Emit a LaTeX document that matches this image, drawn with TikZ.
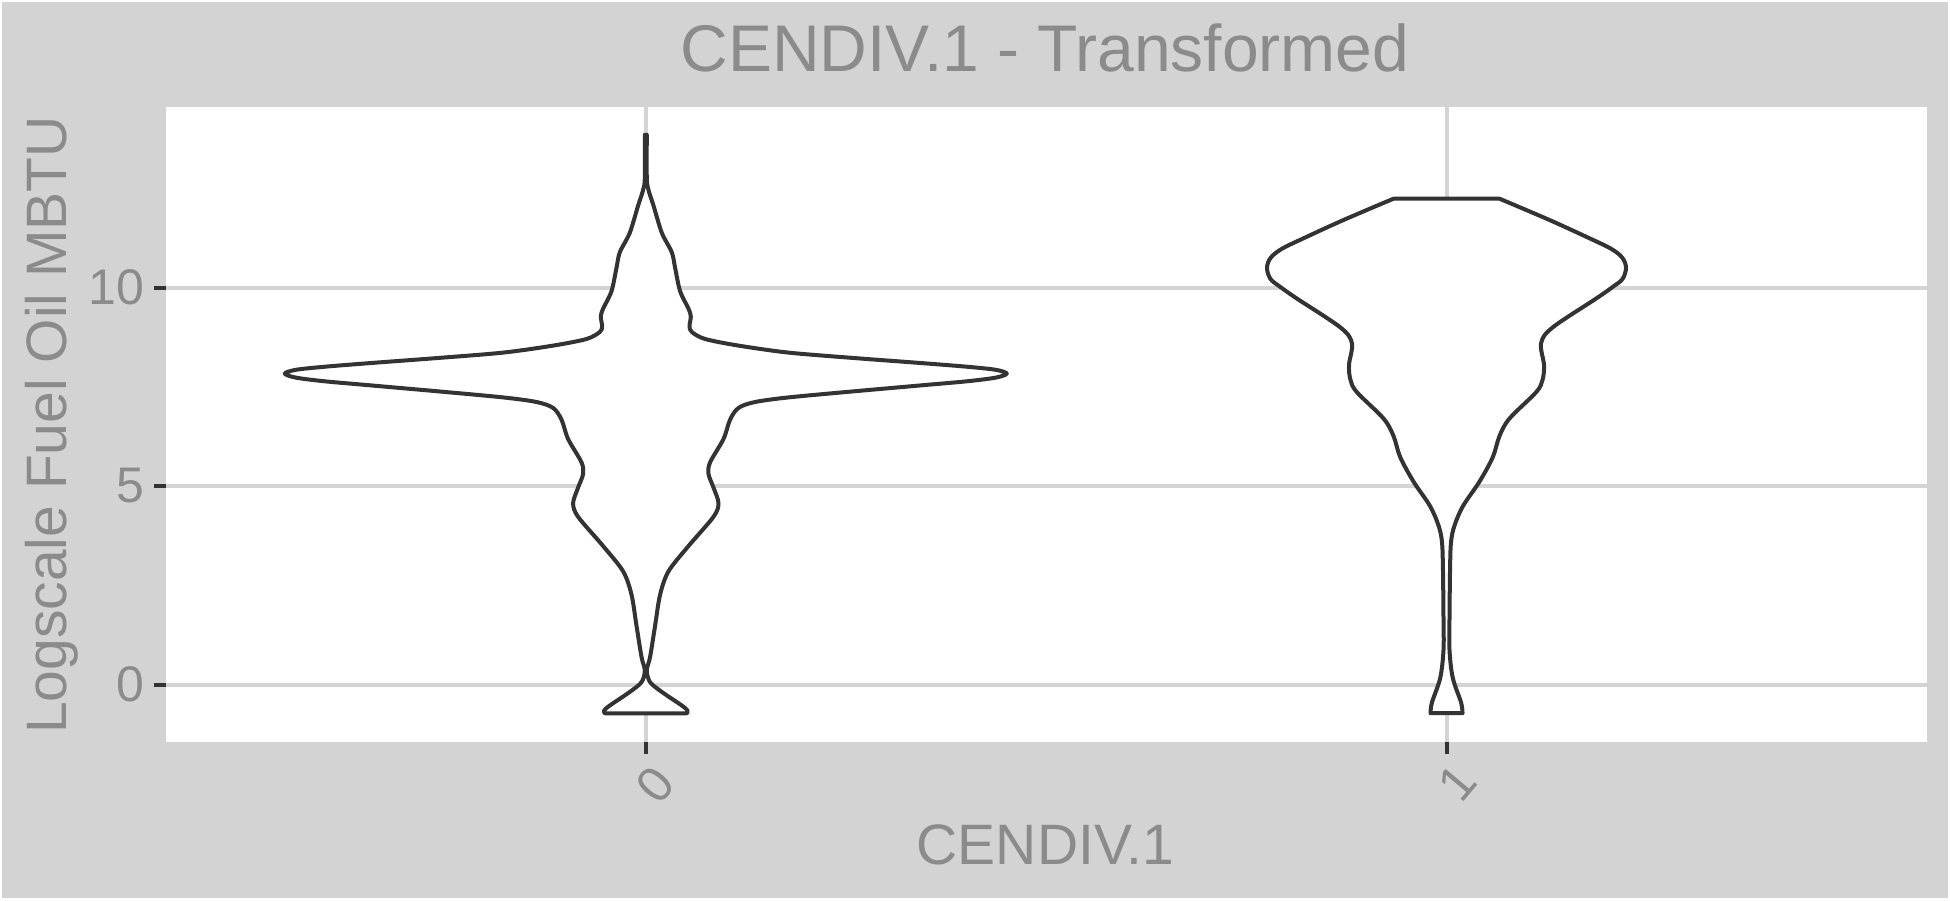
\documentclass[tikz,border=0pt]{standalone}
\usepackage{fontspec}
\setmainfont{Liberation Sans}
\definecolor{bggray}{RGB}{211,211,211}
\definecolor{gridgray}{RGB}{212,212,212}
\definecolor{txtgray}{RGB}{139,139,139}
\definecolor{darkline}{RGB}{51,51,51}
\tikzset{
  gridline/.style={draw=gridgray, line width=2pt},
  tickmark/.style={draw=darkline, line width=2pt},
  violin/.style={draw=darkline, fill=white, line width=2pt, line join=round},
  ticklabel/.style={text=txtgray, font=\fontsize{25}{25}\selectfont, inner sep=0pt},
  axistitle/.style={text=txtgray, font=\fontsize{28.5}{28.5}\selectfont, inner sep=0pt},
  plottitle/.style={text=txtgray, font=\fontsize{33}{33}\selectfont, inner sep=0pt},
}
\begin{document}
\begin{tikzpicture}[x=0.5pt,y=-0.5pt]
\useasboundingbox (0,0) rectangle (1950,900);
\fill[white] (0,0) rectangle (1950,900);
\fill[bggray] (2,2) rectangle (1948,898);
\fill[white] (166,107) rectangle (1927,742);
% grid
\foreach \yy in {287.5,486,684.5} \draw[gridline] (166,\yy) -- (1927,\yy);
\foreach \xx in {645.8,1446.5} \draw[gridline] (\xx,107) -- (\xx,742);
% ticks
\foreach \yy in {287.5,486,684.5} \draw[tickmark] (154,\yy) -- (166,\yy);
\foreach \xx in {645.8,1446.5} \draw[tickmark] (\xx,742) -- (\xx,753.5);
% violin 0
\def\ca{645.8}
\draw[violin] plot[smooth, tension=0.5] coordinates {
({\ca-1},134.8) ({\ca-1},178) ({\ca-2.7},190) ({\ca-7.7},205.6) ({\ca-16},232.8)
({\ca-26},252.3) ({\ca-29.3},267.8) ({\ca-34.3},291.2) ({\ca-42.7},308.7) ({\ca-45},316.5)
({\ca-43.7},326.2) ({\ca-46},332) ({\ca-59.3},339) ({\ca-92.7},345.6) ({\ca-142.7},352.6)
({\ca-209.3},358.1) ({\ca-276},363.1) ({\ca-322},366.8) ({\ca-350},369.8) ({\ca-361},373.6)
({\ca-350},377.6) ({\ca-322},381.2) ({\ca-276},385.3) ({\ca-209.3},391.2) ({\ca-142.7},397.4)
({\ca-109.3},402) ({\ca-92.7},407.9)
({\ca-84.3},419.6) ({\ca-77.7},439) ({\ca-64.3},462.3) ({\ca-62.7},474) ({\ca-67.7},487.6)
({\ca-72.7},503.2) ({\ca-67.7},516.8) ({\ca-42.7},546) ({\ca-22.7},571.3) ({\ca-14.3},594.6)
({\ca-9.3},625.7) ({\ca-4.3},656.9) ({\ca-1},670.5) ({\ca-4.3},682.2) ({\ca-16},691.9)
({\ca-36},705.5) ({\ca-41.7},710.5) ({\ca-41},713.3)}
-- plot[smooth, tension=0.5] coordinates {
({\ca+41},713.3) ({\ca+41.7},710.5) ({\ca+36},705.5) ({\ca+16},691.9) ({\ca+4.3},682.2)
({\ca+1},670.5) ({\ca+4.3},656.9) ({\ca+9.3},625.7) ({\ca+14.3},594.6) ({\ca+22.7},571.3)
({\ca+42.7},546) ({\ca+67.7},516.8) ({\ca+72.7},503.2) ({\ca+67.7},487.6) ({\ca+62.7},474)
({\ca+64.3},462.3) ({\ca+77.7},439) ({\ca+84.3},419.6) ({\ca+92.7},407.9) ({\ca+109.3},402)
({\ca+142.7},397.4) ({\ca+209.3},391.2) ({\ca+276},385.3) ({\ca+322},381.2) ({\ca+350},377.6)
({\ca+361},373.6) ({\ca+350},369.8) ({\ca+322},366.8)
({\ca+276},363.1) ({\ca+209.3},358.1) ({\ca+142.7},352.6) ({\ca+92.7},345.6)
({\ca+59.3},339) ({\ca+46},332) ({\ca+43.7},326.2) ({\ca+45},316.5) ({\ca+42.7},308.7)
({\ca+34.3},291.2) ({\ca+29.3},267.8) ({\ca+26},252.3) ({\ca+16},232.8) ({\ca+7.7},205.6)
({\ca+2.7},190) ({\ca+1},178) ({\ca+1},134.8)} -- cycle;
% violin 1
\def\cb{1446.5}
\draw[violin] plot[smooth, tension=0.55] coordinates {
({\cb-53},198.7) ({\cb-103},220) ({\cb-143},238.3) ({\cb-165},249) ({\cb-176},258)
({\cb-179.5},268) ({\cb-176},279) ({\cb-166.5},286.7) ({\cb-150},298.3)
({\cb-106.3},327.3) ({\cb-94.6},343.1) ({\cb-97.5},365)
({\cb-96},380) ({\cb-89.6},392.2) ({\cb-63},418.5) ({\cb-53},436) ({\cb-46.3},457.1)
({\cb-33},481.6) ({\cb-16.5},506) ({\cb-8},525.5) ({\cb-4.6},541.3) ({\cb-3.6},566)
({\cb-3},618.4) ({\cb-3},650) ({\cb-6.3},678) ({\cb-14.6},702.6) ({\cb-16},713.2)}
-- plot[smooth, tension=0.55] coordinates {
({\cb+16},713.2) ({\cb+14.6},702.6) ({\cb+6.3},678) ({\cb+3},650) ({\cb+3},618.4)
({\cb+3.6},566) ({\cb+4.6},541.3) ({\cb+8},525.5) ({\cb+16.5},506) ({\cb+33},481.6)
({\cb+46.3},457.1) ({\cb+53},436) ({\cb+63},418.5) ({\cb+89.6},392.2) ({\cb+96},380)
({\cb+97.5},365) ({\cb+94.6},343.1) ({\cb+106.3},327.3)
({\cb+150},298.3) ({\cb+166.5},286.7) ({\cb+176},279) ({\cb+179.5},268)
({\cb+176},258) ({\cb+165},249) ({\cb+143},238.3) ({\cb+103},220) ({\cb+53},198.7)}
-- cycle;
% labels
\node[ticklabel, anchor=east] (y10) at (145,287.5) {10};
\node[ticklabel, anchor=east] (y5) at (145,486) {5};
\node[ticklabel, anchor=east] (y0) at (145,684.5) {0};
\node[ticklabel, rotate=50] (x0) at (655,785) {0};
\node[ticklabel, rotate=50] (x1) at (1457,783) {1};
\node[plottitle, anchor=base] (title) at (1045,71) {CENDIV.1 - Transformed};
\node[axistitle, anchor=base] (xtitle) at (1045.5,864.5) {CENDIV.1};
\node[axistitle, rotate=90, anchor=base] (ytitle) at (66.7,425) {Logscale Fuel Oil MBTU};
\end{tikzpicture}
\end{document}
